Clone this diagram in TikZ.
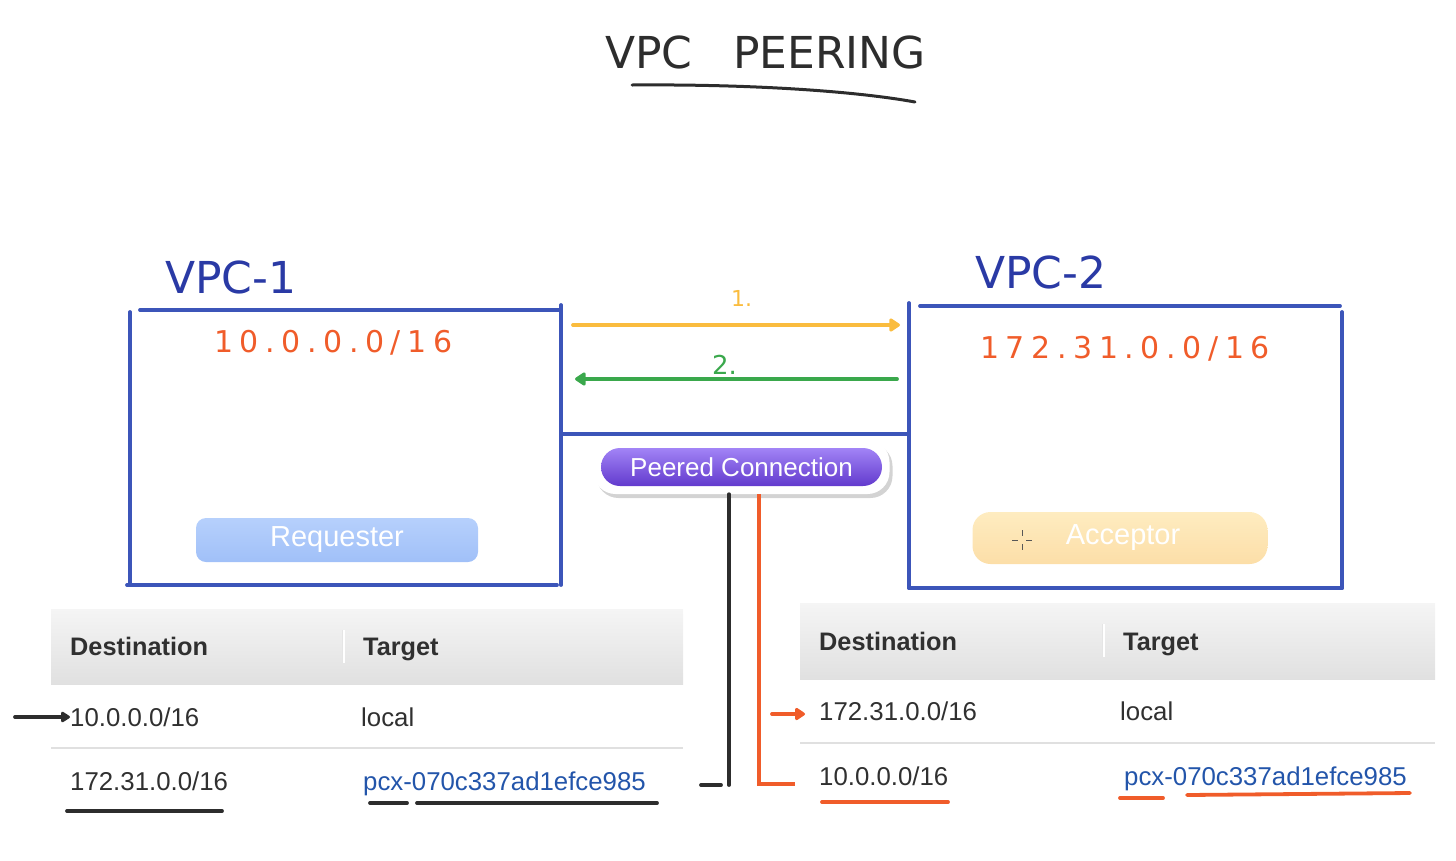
\documentclass[tikz,border=0pt]{standalone}
\usepackage{fontspec}
\setmainfont{Liberation Sans}
\newfontfamily\handfont{DejaVu Sans}
\newfontfamily\handnum[LetterSpace=22]{DejaVu Sans}
\usetikzlibrary{arrows.meta,shadows}

\definecolor{vpcblue}{RGB}{60,85,185}
\definecolor{inkblue}{RGB}{42,58,165}
\definecolor{inkorange}{RGB}{240,92,42}
\definecolor{inkyellow}{RGB}{250,188,62}
\definecolor{inkgreen}{RGB}{58,168,76}
\definecolor{ink}{RGB}{45,45,45}
\definecolor{cell}{RGB}{48,48,48}
\definecolor{pcxblue}{RGB}{35,85,170}

\begin{document}
\begin{tikzpicture}[x=1pt,y=-1pt,
  vpcline/.style={draw=vpcblue,line width=3.8pt,line cap=round},
  hand/.style={inner sep=0pt,anchor=base west,font=\handfont\fontsize{44}{44}\selectfont},
  cidr/.style={inner sep=0pt,anchor=base west,text=inkorange,font=\handnum\fontsize{30}{30}\selectfont},
  head/.style={inner sep=0pt,anchor=base west,text=cell,font=\bfseries\fontsize{25.3}{25}\selectfont},
  cellt/.style={inner sep=0pt,anchor=base west,text=cell,font=\fontsize{25.8}{26}\selectfont},
  hdr/.style={top color=black!4,bottom color=black!12,draw=none},
  btn/.style={rounded corners=13pt,text=white,font=\fontsize{29}{29}\selectfont},
  penline/.style={line width=3.8pt,line cap=round},
  flow/.style={line width=3.8pt,line cap=round,-{Triangle[length=12pt,width=15pt,round]}}]
\useasboundingbox (0,0) rectangle (1456,860);

% title
\node[hand,text=ink] (tvpc) at (605,68) {VPC};
\node[hand,text=ink] (tpeer) at (733,68) {PEERING};
\draw[penline,line width=3pt,ink] (632,85) .. controls (760,84) and (860,92) .. (915,102);

% the two VPCs
\node[hand,text=inkblue] (vpc1) at (165,293) {VPC-1};
\node[hand,text=inkblue] (vpc2) at (975,288) {VPC-2};
\node[cidr] (cidr1) at (214,352) {10.0.0.0/16};
\node[cidr] (cidr2) at (980,358) {172.31.0.0/16};

\draw[vpcline] (140,310) -- (561,310);
\draw[vpcline] (130,312) -- (130,585);
\draw[vpcline] (127,585) -- (557,585);
\draw[vpcline] (561,305) -- (561,585);
\draw[vpcline] (920,306) -- (1340,306);
\draw[vpcline] (909,303) -- (909,588);
\draw[vpcline] (909,588) -- (1342,588);
\draw[vpcline] (1342,312) -- (1342,588);
\draw[vpcline] (561,434) -- (909,434);

% request / accept
\coordinate (reqa) at (573,325);
\coordinate (reqb) at (900,325);
\coordinate (acca) at (897,379);
\coordinate (accb) at (575,379);
\draw[flow,inkyellow] (reqa) -- (reqb);
\draw[flow,inkgreen] (acca) -- (accb);
\node[inner sep=0pt,anchor=base west,text=inkyellow,font=\handfont\fontsize{22}{22}\selectfont] (step1) at (731,306) {1.};
\node[inner sep=0pt,anchor=base west,text=inkgreen,font=\handfont\fontsize{26}{26}\selectfont] (step2) at (712,374) {2.};

% buttons
\node[btn,top color={rgb,255:red,182;green,208;blue,252},bottom color={rgb,255:red,160;green,192;blue,248},
  minimum width=282pt,minimum height=44pt,rounded corners=10pt] (req) at (337,540) {\raisebox{-4pt}{Requester}};
\node[btn,top color={rgb,255:red,254;green,236;blue,192},bottom color={rgb,255:red,252;green,222;blue,168},
  minimum width=295pt,minimum height=52pt,rounded corners=18pt] (acc) at (1120,538) {\raisebox{-3pt}{\hspace*{6pt}Acceptor}};
\draw[ink!80,line width=1pt] (1022,530) -- (1022,536) (1022,544) -- (1022,550)
  (1012,540) -- (1018,540) (1026,540) -- (1032,540);

\node[fill=white,rounded corners=22pt,minimum width=296pt,minimum height=54pt,
  drop shadow={opacity=0.35,shadow xshift=3pt,shadow yshift=-4pt}] (pchalo) at (741.5,467) {};
\node[btn,top color={rgb,255:red,162;green,132;blue,246},bottom color={rgb,255:red,98;green,58;blue,205},
  minimum width=281pt,minimum height=38pt,rounded corners=19pt,font=\fontsize{26}{26}\selectfont] (pc) at (741.5,467) {\raisebox{-1pt}{Peered Connection}};

% route table of VPC-1
\path[hdr] (51,609) rectangle (683,684);
\draw[white,line width=1.5pt] (344,630) -- (344,663);
\draw[black!10,line width=1pt] (342.5,630) -- (342.5,663);
\draw[black!12,line width=1.2pt] (51,748) -- (683,748);
\node[head] (lh1) at (70,655) {Destination};
\node[head] (lh2) at (363,655) {Target};
\node[cellt] (ld1) at (70,726) {10.0.0.0/16};
\node[cellt] (lt1) at (361,726) {local};
\node[cellt] (ld2) at (70,790) {172.31.0.0/16};
\node[cellt,text=pcxblue] (lt2) at (363,790) {pcx-070c337ad1efce985};

% route table of VPC-2
\path[hdr] (800,603) rectangle (1435,679);
\draw[white,line width=1.5pt] (1104,624) -- (1104,657);
\draw[black!10,line width=1pt] (1102.5,624) -- (1102.5,657);
\draw[black!12,line width=1.2pt] (800,743) -- (1435,743);
\node[head] (rh1) at (819,650) {Destination};
\node[head] (rh2) at (1123,650) {Target};
\node[cellt] (rd1) at (819,720) {172.31.0.0/16};
\node[cellt] (rt1) at (1120,720) {local};
\node[cellt] (rd2) at (819,785) {10.0.0.0/16};
\node[cellt,text=pcxblue] (rt2) at (1124,785) {pcx-070c337ad1efce985};

% marks
\coordinate (larr) at (15,717);
\coordinate (rarr) at (772,714);
\draw[penline,ink,-{Triangle[length=10pt,width=12pt,round]}] (larr) -- (larr -| ld1.west);
\draw[penline,inkorange,-{Triangle[length=11pt,width=14pt,round]}] (rarr) -- ([xshift=-14pt]rarr -| rd1.west);

\coordinate (pcl) at ([xshift=-12.5pt]pchalo.south);
\coordinate (pcr) at ([xshift=17.5pt]pchalo.south);
\draw[penline,ink] (pcl) -- (pcl |- 0,785);
\draw[penline,ink] (701,785) -- (721,785);
\draw[penline,inkorange,line cap=butt] (pcr) -- (pcr |- 0,784) -- (795,784);

\draw[penline,ink] (67,811) -- (222,811);
\draw[penline,ink] (370,803) -- (407,803);
\draw[penline,ink] (417,803) -- (657,803);
\draw[penline,inkorange] (822,802) -- (948,802);
\draw[penline,inkorange] (1120,798) -- (1163,798);
\draw[penline,inkorange] (1187,795) -- (1410,793);
\end{tikzpicture}
\end{document}
